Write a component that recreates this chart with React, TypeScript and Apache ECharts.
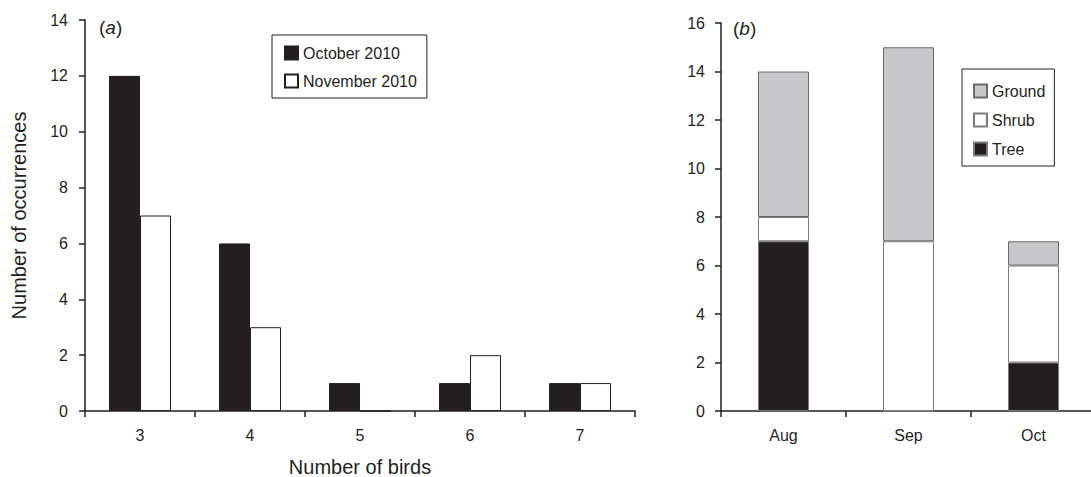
import React, { useEffect, useRef } from "react";
import * as echarts from "echarts";

// Panel (a): flock sizes
const birdCounts = ["3", "4", "5", "6", "7"];
const october2010 = [12, 6, 1, 1, 1];
const november2010 = [7, 3, 0, 2, 1];

// Panel (b): foraging strata by month
const months = ["Aug", "Sep", "Oct"];
const treeCounts = [7, 0, 2];
const shrubCounts = [1, 7, 4];
const groundCounts = [6, 8, 1];

const INK = "#231f20";
const GREY = "#c8c8ca";
const FONT = "Liberation Sans, Arial, sans-serif";

export default function App() {
  const ref = useRef<HTMLDivElement>(null);

  useEffect(() => {
    if (!ref.current) return;
    const chart = echarts.init(ref.current, undefined, { renderer: "svg" });

    const axisLine = { show: true, lineStyle: { color: INK, width: 1.5 } };
    const axisTick = { show: true, inside: false, length: 6, lineStyle: { color: INK, width: 1.5 } };
    const axisLabel = { color: INK, fontSize: 16, fontFamily: FONT };
    const nameStyle = { color: INK, fontSize: 20, fontFamily: FONT };
    const legendText = { color: INK, fontSize: 16, fontFamily: FONT };
    const panelLabel = {
      n: { fontSize: 19, fontFamily: FONT, fill: INK },
      i: { fontSize: 19, fontFamily: FONT, fontStyle: "italic", fill: INK },
    };

    chart.setOption({
      animation: false,
      textStyle: { fontFamily: FONT, color: INK },
      grid: [
        { left: 85, top: 20, width: 550, height: 391, outerBoundsMode: "none", containLabel: false },
        { left: 721, top: 23, width: 375, height: 388, outerBoundsMode: "none", containLabel: false },
      ],
      xAxis: [
        {
          gridIndex: 0,
          type: "category",
          data: birdCounts,
          axisLine,
          axisTick,
          axisLabel: { ...axisLabel, margin: 16 },
          name: "Number of birds",
          nameLocation: "middle",
          nameGap: 46,
          nameTextStyle: nameStyle,
        },
        {
          gridIndex: 1,
          type: "category",
          data: months,
          axisLine,
          axisTick,
          axisLabel: { ...axisLabel, margin: 16 },
        },
      ],
      yAxis: [
        {
          gridIndex: 0,
          type: "value",
          min: 0,
          max: 14,
          interval: 2,
          axisLine,
          axisTick,
          splitLine: { show: false },
          axisLabel: { ...axisLabel, margin: 17 },
          name: "Number of occurrences",
          nameLocation: "middle",
          nameGap: 56,
          nameTextStyle: nameStyle,
        },
        {
          gridIndex: 1,
          type: "value",
          min: 0,
          max: 16,
          interval: 2,
          axisLine,
          axisTick,
          splitLine: { show: false },
          axisLabel: { ...axisLabel, margin: 16 },
        },
      ],
      legend: [
        {
          data: ["October 2010", "November 2010"],
          orient: "vertical",
          left: 272,
          top: 35,
          padding: [10, 10, 9, 12],
          itemGap: 12,
          itemWidth: 13,
          itemHeight: 13,
          icon: "rect",
          borderColor: INK,
          borderWidth: 1,
          textStyle: legendText,
        },
        {
          data: ["Ground", "Shrub", "Tree"],
          orient: "vertical",
          left: 962,
          top: 69,
          padding: [14, 9, 9, 11],
          itemGap: 13,
          itemWidth: 13,
          itemHeight: 13,
          icon: "rect",
          borderColor: INK,
          borderWidth: 1,
          textStyle: legendText,
        },
      ],
      series: [
        {
          name: "October 2010",
          type: "bar",
          xAxisIndex: 0,
          yAxisIndex: 0,
          data: october2010,
          barWidth: 31,
          barGap: "0%",
          itemStyle: { color: INK, borderColor: INK, borderWidth: 1 },
        },
        {
          name: "November 2010",
          type: "bar",
          xAxisIndex: 0,
          yAxisIndex: 0,
          data: november2010,
          barWidth: 31,
          barGap: "0%",
          itemStyle: { color: "#ffffff", borderColor: INK, borderWidth: 1 },
        },
        {
          name: "Tree",
          type: "bar",
          stack: "strata",
          xAxisIndex: 1,
          yAxisIndex: 1,
          data: treeCounts,
          barWidth: 51,
          itemStyle: { color: INK, borderColor: "#7a7a7a", borderWidth: 1 },
        },
        {
          name: "Shrub",
          type: "bar",
          stack: "strata",
          xAxisIndex: 1,
          yAxisIndex: 1,
          data: shrubCounts,
          barWidth: 51,
          itemStyle: { color: "#ffffff", borderColor: "#7a7a7a", borderWidth: 1 },
        },
        {
          name: "Ground",
          type: "bar",
          stack: "strata",
          xAxisIndex: 1,
          yAxisIndex: 1,
          data: groundCounts,
          barWidth: 51,
          itemStyle: { color: GREY, borderColor: "#6a6a6a", borderWidth: 1 },
        },
      ],
      graphic: [
        {
          type: "text",
          left: 99,
          top: 18,
          style: { text: "{n|(}{i|a}{n|)}", rich: panelLabel },
        },
        {
          type: "text",
          left: 733,
          top: 19,
          style: { text: "{n|(}{i|b}{n|)}", rich: panelLabel },
        },
      ],
    });

    return () => chart.dispose();
  }, []);

  return (
    <div
      ref={ref}
      style={{ position: "fixed", left: 0, top: 0, width: 1091, height: 477, background: "#ffffff" }}
    />
  );
}
